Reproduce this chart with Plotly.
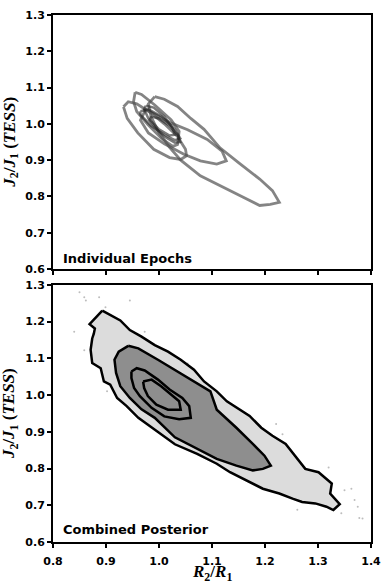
import plotly.graph_objects as go
from plotly.subplots import make_subplots

# x tick values shared by both panels
x_ticks = [0.8, 0.9, 1.0, 1.1, 1.2, 1.3, 1.4]
y_ticks = [0.6, 0.7, 0.8, 0.9, 1.0, 1.1, 1.2, 1.3]

# --- top panel: individual epoch contours (R2/R1, J2/J1) ---
ep_a_x = [0.933, 0.942, 0.958, 0.985, 1.010, 1.035, 1.050, 1.052, 1.041, 1.020, 0.990, 0.960, 0.940, 0.933]
ep_a_y = [1.047, 1.061, 1.055, 1.030, 1.000, 0.965, 0.930, 0.912, 0.902, 0.907, 0.930, 0.975, 1.015, 1.047]

ep_b_x = [0.955, 0.967, 0.992, 1.023, 1.038, 1.035, 1.026, 1.004, 0.979, 0.958, 0.952, 0.955]
ep_b_y = [1.087, 1.081, 1.052, 1.011, 0.979, 0.943, 0.938, 0.961, 0.998, 1.034, 1.061, 1.087]

ep_c_x = [0.975, 1.000, 1.023, 1.054, 1.091, 1.119, 1.127, 1.109, 1.078, 1.047, 1.010, 0.980, 0.965, 0.975]
ep_c_y = [1.040, 1.020, 1.002, 0.984, 0.957, 0.925, 0.898, 0.889, 0.898, 0.916, 0.945, 0.975, 1.010, 1.040]

ep_d_x = [0.992, 1.010, 1.035, 1.060, 1.085, 1.115, 1.150, 1.190, 1.214, 1.227, 1.210, 1.190,
          1.159, 1.122, 1.078, 1.041, 1.020, 1.000, 0.985, 0.980, 0.992]
ep_d_y = [1.075, 1.068, 1.048, 1.015, 0.985, 0.934, 0.893, 0.848, 0.816, 0.784, 0.778, 0.775,
          0.798, 0.825, 0.857, 0.900, 0.935, 0.975, 1.020, 1.055, 1.075]

in_a_x = [0.965, 0.980, 1.005, 1.030, 1.040, 1.030, 1.010, 0.985, 0.965, 0.965]
in_a_y = [1.035, 1.040, 1.020, 0.985, 0.960, 0.955, 0.970, 0.995, 1.025, 1.035]
in_b_x = [0.975, 0.990, 1.010, 1.025, 1.030, 1.020, 1.000, 0.980, 0.972, 0.975]
in_b_y = [1.050, 1.045, 1.020, 0.990, 0.970, 0.968, 0.985, 1.015, 1.040, 1.050]
in_c_x = [0.985, 1.000, 1.020, 1.035, 1.040, 1.030, 1.010, 0.992, 0.982, 0.985]
in_c_y = [1.020, 1.015, 0.995, 0.970, 0.950, 0.948, 0.965, 0.990, 1.010, 1.020]

# --- bottom panel: combined posterior contours ---
lvl1_x = [0.893, 0.905, 0.927, 0.945, 0.967, 0.992, 1.017, 1.041, 1.066, 1.085, 1.109, 1.128, 1.153,
          1.171, 1.193, 1.214, 1.239, 1.258, 1.276, 1.301, 1.316, 1.326, 1.323, 1.341, 1.329, 1.316,
          1.295, 1.270, 1.252, 1.227, 1.196, 1.165, 1.134, 1.109, 1.085, 1.072, 1.030, 0.986, 0.961,
          0.939, 0.921, 0.908, 0.896, 0.890, 0.874, 0.871, 0.874, 0.877, 0.879, 0.869, 0.893]
lvl1_y = [1.230, 1.221, 1.203, 1.177, 1.159, 1.136, 1.118, 1.096, 1.069, 1.037, 1.010, 0.983, 0.960,
          0.943, 0.911, 0.889, 0.867, 0.831, 0.799, 0.790, 0.772, 0.759, 0.732, 0.703, 0.687, 0.696,
          0.705, 0.709, 0.718, 0.732, 0.745, 0.768, 0.790, 0.813, 0.831, 0.840, 0.866, 0.911, 0.938,
          0.970, 0.992, 1.028, 1.037, 1.073, 1.087, 1.123, 1.154, 1.167, 1.181, 1.193, 1.230]

lvl2_x = [0.942, 0.961, 0.998, 1.029, 1.060, 1.097, 1.109, 1.146, 1.177, 1.199, 1.211, 1.196, 1.177,
          1.146, 1.109, 1.072, 1.030, 0.992, 0.967, 0.945, 0.927, 0.919, 0.916, 0.924, 0.942]
lvl2_y = [1.134, 1.127, 1.096, 1.069, 1.042, 1.010, 0.960, 0.911, 0.867, 0.835, 0.808, 0.799, 0.795,
          0.808, 0.826, 0.853, 0.885, 0.938, 0.961, 0.992, 1.024, 1.060, 1.096, 1.118, 1.134]

lvl3_x = [0.948, 0.958, 0.973, 0.998, 1.020, 1.044, 1.057, 1.060, 1.038, 1.010, 0.986, 0.964, 0.953, 0.948, 0.948]
lvl3_y = [1.064, 1.073, 1.067, 1.042, 1.015, 0.992, 0.970, 0.938, 0.934, 0.942, 0.965, 0.997, 1.019, 1.046, 1.064]

lvl4_x = [0.970, 0.986, 1.004, 1.023, 1.038, 1.041, 1.017, 0.995, 0.979, 0.972, 0.970]
lvl4_y = [1.037, 1.042, 1.024, 1.001, 0.983, 0.960, 0.960, 0.974, 0.997, 1.019, 1.037]

# sparse posterior samples outside the outer contour
out_x = [0.850, 0.859, 0.862, 0.887, 0.899, 0.945, 0.840, 0.859, 0.902, 0.973, 1.054, 1.233,
         1.221, 1.320, 1.350, 1.363, 1.369, 1.375, 1.378, 1.384, 1.344, 1.261]
out_y = [1.280, 1.266, 1.257, 1.266, 1.239, 1.257, 1.172, 1.122, 1.010, 1.172, 1.086, 0.893,
         0.921, 0.803, 0.741, 0.745, 0.714, 0.696, 0.665, 0.664, 0.678, 0.688]

fig = make_subplots(rows=2, cols=1)

epoch_line = dict(color="rgba(80,80,80,0.7)", width=2.8)
inner_line = dict(color="rgba(35,35,35,0.6)", width=2.5)
for xs, ys in [(ep_a_x, ep_a_y), (ep_b_x, ep_b_y), (ep_c_x, ep_c_y), (ep_d_x, ep_d_y)]:
    fig.add_trace(go.Scatter(x=xs, y=ys, mode="lines", line=epoch_line,
                             hoverinfo="skip"), row=1, col=1)
for xs, ys in [(in_a_x, in_a_y), (in_b_x, in_b_y), (in_c_x, in_c_y)]:
    fig.add_trace(go.Scatter(x=xs, y=ys, mode="lines", line=inner_line,
                             hoverinfo="skip"), row=1, col=1)

fig.add_trace(go.Scatter(x=out_x, y=out_y, mode="markers",
                         marker=dict(size=2, color="#bdbdbd"), hoverinfo="skip"), row=2, col=1)
fig.add_trace(go.Scatter(x=lvl1_x, y=lvl1_y, mode="lines", fill="toself", fillcolor="#dcdcdc",
                         line=dict(color="black", width=2.5)), row=2, col=1)
for xs, ys in [(lvl2_x, lvl2_y), (lvl3_x, lvl3_y), (lvl4_x, lvl4_y)]:
    fig.add_trace(go.Scatter(x=xs, y=ys, mode="lines", fill="toself", fillcolor="#8e8e8e",
                             line=dict(color="black", width=2.5)), row=2, col=1)

tick_font = dict(family="DejaVu Sans", size=11, color="black", weight="bold")
ax_common = dict(showline=True, linecolor="black", linewidth=2, mirror=True,
                 ticks="outside", ticklen=4, tickwidth=1.5, tickcolor="black",
                 showgrid=False, zeroline=False, tickfont=tick_font)

fig.update_xaxes(range=[0.8, 1.4], tickvals=x_ticks, ticklabelstandoff=4, **ax_common)
fig.update_xaxes(showticklabels=False, domain=[0, 1], row=1, col=1)
fig.update_xaxes(ticktext=[f"{v:.1f}" for v in x_ticks], domain=[0, 1], row=2, col=1)
fig.update_yaxes(range=[0.6, 1.3], tickvals=y_ticks,
                 ticktext=[f"{v:.1f}" for v in y_ticks], **ax_common)
fig.update_yaxes(domain=[0.518, 1.0], row=1, col=1)
fig.update_yaxes(domain=[0.0, 0.488], row=2, col=1)

ytitle = "<b><i>J</i><sub>2</sub>/<i>J</i><sub>1</sub> (<i>TESS</i>)</b>"
serif = dict(family="Liberation Serif", size=17, color="black")
label_font = dict(family="DejaVu Sans", size=13, color="black", weight="bold")
fig.update_layout(
    width=390, height=586,
    margin=dict(l=53, r=14, t=9, b=44),
    paper_bgcolor="white", plot_bgcolor="white",
    showlegend=False,
    annotations=[
        dict(text=ytitle, xref="paper", yref="paper", x=-0.133, y=0.759, textangle=-90,
             showarrow=False, font=serif, xanchor="center", yanchor="middle"),
        dict(text=ytitle, xref="paper", yref="paper", x=-0.133, y=0.244, textangle=-90,
             showarrow=False, font=serif, xanchor="center", yanchor="middle"),
        dict(text="<b><i>R</i><sub>2</sub>/<i>R</i><sub>1</sub></b>", xref="paper", yref="paper",
             x=0.5, y=-0.058, showarrow=False, font=serif, xanchor="center", yanchor="middle"),
        dict(text="Individual Epochs", xref="paper", yref="paper", x=0.025, y=0.538,
             showarrow=False, font=label_font, xanchor="left", yanchor="middle"),
        dict(text="Combined Posterior", xref="paper", yref="paper", x=0.025, y=0.024,
             showarrow=False, font=label_font, xanchor="left", yanchor="middle"),
    ],
)

# page body has a default 8px margin; drop it so the figure sits at the window origin
fig.write_html("out.html", config={"displayModeBar": False},
               post_script="document.body.style.margin='0px';")
